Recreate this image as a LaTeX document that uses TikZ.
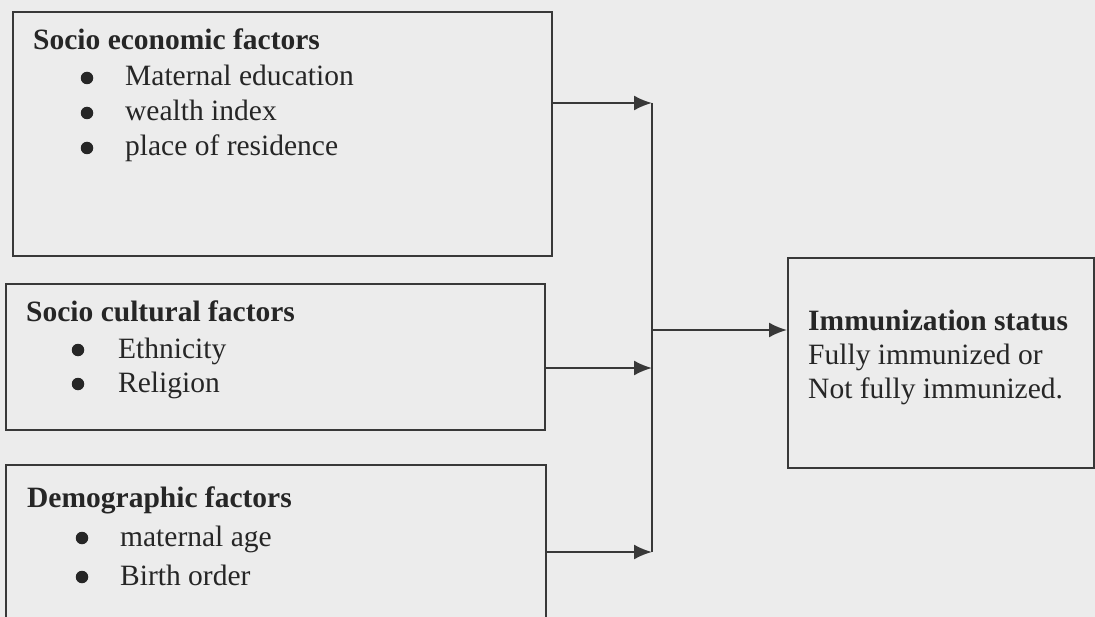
\documentclass[tikz,border=0pt]{standalone}
\usepackage{fontspec}
\setmainfont{Liberation Serif}
\usepackage{xcolor}
\usetikzlibrary{arrows.meta,positioning,calc}

\definecolor{paper}{HTML}{ECECEC}
\definecolor{ink}{HTML}{383838}
\definecolor{textink}{HTML}{262626}

\begin{document}
\begin{tikzpicture}[x=1bp, y=-1bp,
    factorbox/.style={draw=ink, line width=2bp, rectangle, anchor=north west, inner sep=0pt},
    head/.style={anchor=base west, inner sep=0pt, text=textink, font=\fontsize{29.5bp}{35bp}\selectfont\bfseries},
    item/.style={anchor=base west, inner sep=0pt, text=textink, font=\fontsize{29.5bp}{35bp}\selectfont},
    dot/.style={circle, fill=textink, minimum size=12.5bp, inner sep=0pt},
    conn/.style={draw=ink, line width=2bp},
    >={Latex[length=18bp, width=15bp]}]
% page and background
\clip (0,0) rectangle (1095,617);
\fill[paper] (0,0) rectangle (1095,617);

% Factor boxes (left column)
\node[factorbox, minimum width=539bp, minimum height=244bp] (econ) at (12,11) {};
\node[factorbox, minimum width=539bp, minimum height=146bp] (cult) at (5,283) {};
\node[factorbox, minimum width=540bp, minimum height=170bp] (demo) at (5,464) {};

% Outcome box
\node[factorbox, minimum width=306bp, minimum height=210bp] (status) at (787,257) {};

% Socio economic factors
\node[head] (econhead) at (33,50) {Socio economic factors};
\foreach \t [count=\i] in {Maternal education, wealth index, place of residence} {
  \node[dot] (econdot\i) at (87,43+35*\i) {};
  \node[item] (econitem\i) at (125,51+35*\i) {\t};
}

% Socio cultural factors
\node[head] (culthead) at (26,322) {Socio cultural factors};
\foreach \t [count=\i] in {Ethnicity, Religion} {
  \node[dot] (cultdot\i) at (78,316+34*\i) {};
  \node[item] (cultitem\i) at (118,324+34*\i) {\t};
}

% Demographic factors
\node[head] (demohead) at (27,507) {Demographic factors};
\foreach \t [count=\i] in {maternal age, Birth order} {
  \node[dot] (demodot\i) at (82,499+39*\i) {};
  \node[item] (demoitem\i) at (120,507+39*\i) {\t};
}

% Immunization status
\node[head] (statushead) at (808,330) {Immunization status};
\node[item] (statusline1) at (808,364) {Fully immunized or};
\node[item] (statusline2) at (808,398) {Not fully immunized.};

% Bus line and arrows
\coordinate (busA) at (652,103);
\coordinate (busB) at (652,368);
\coordinate (busC) at (652,552);
\coordinate (busOut) at (652,330);
\draw[conn] (busA) -- (busC);
\draw[conn,->] (econ.east |- busA) -- (busA);
\draw[conn,->] (cult.east |- busB) -- (busB);
\draw[conn,->] (demo.east |- busC) -- (busC);
\draw[conn,->] (busOut) -- (busOut -| status.west);
\end{tikzpicture}
\end{document}
